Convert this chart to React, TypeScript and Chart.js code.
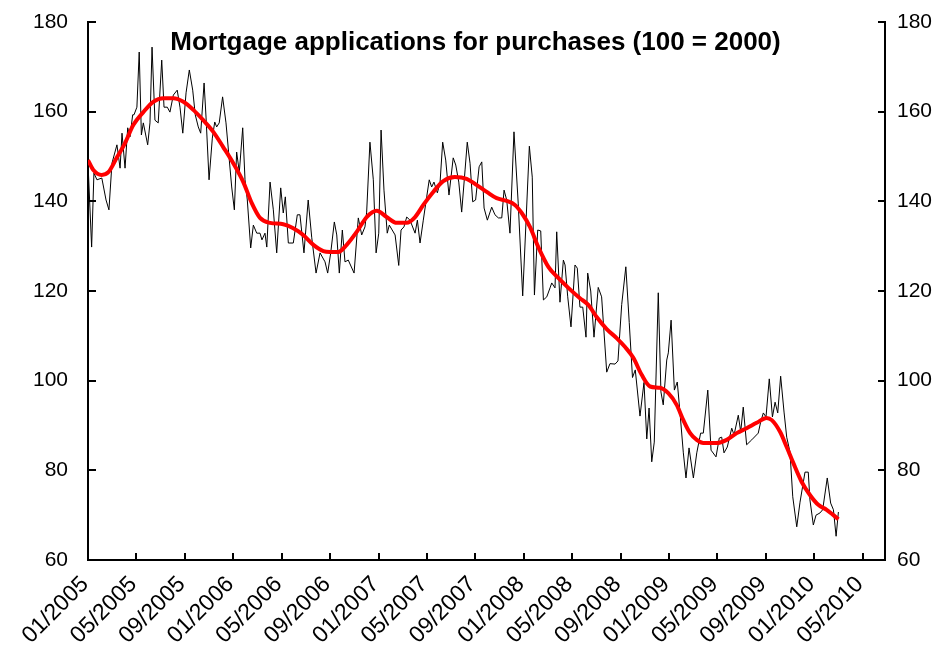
import React, { useEffect, useRef } from 'react';
import { Chart, registerables } from 'chart.js';

Chart.register(...registerables);

const titleText = 'Mortgage applications for purchases (100 = 2000)';

const xTickLabels = [
  '01/2005', '05/2005', '09/2005', '01/2006', '05/2006', '09/2006', '01/2007', '05/2007',
  '09/2007', '01/2008', '05/2008', '09/2008', '01/2009', '05/2009', '09/2009', '01/2010', '05/2010',
];
// months since January 2005
const xTickMonths = [0, 4, 8, 12, 16, 20, 24, 28, 32, 36, 40, 44, 48, 52, 56, 60, 64];
const xAxisEndMonth = 65.84;
const yTickValues = [60, 80, 100, 120, 140, 160, 180];

// weekly index observations (months since Jan 2005, index value)
const weeklyMonths = [
  0, 0.30, 0.49, 0.74, 1.14, 1.49, 1.73, 1.98, 2.39, 2.65,
  2.81, 3.06, 3.28, 3.47, 3.69, 3.80, 4.04, 4.23, 4.41, 4.57,
  4.93, 5.12, 5.29, 5.53, 5.80, 6.09, 6.28, 6.55, 6.77, 7.05,
  7.37, 7.60, 7.83, 8.10, 8.37, 8.65, 8.86, 9.11, 9.31, 9.59,
  9.75, 10.00, 10.27, 10.47, 10.63, 10.84, 11.12, 11.40, 11.65, 11.87,
  12.09, 12.28, 12.50, 12.78, 12.97, 13.16, 13.44, 13.66, 13.94, 14.21,
  14.37, 14.62, 14.77, 15.04, 15.31, 15.59, 15.92, 16.13, 16.30, 16.55,
  16.96, 17.29, 17.51, 17.84, 18.19, 18.48, 18.84, 19.17, 19.58, 19.80,
  20.05, 20.35, 20.55, 20.76, 21.01, 21.23, 21.50, 21.98, 22.33, 22.61,
  22.88, 23.02, 23.29, 23.57, 23.80, 24.02, 24.21, 24.45, 24.72, 24.89,
  25.37, 25.67, 25.86, 26.10, 26.33, 26.60, 27.02, 27.21, 27.43, 27.70,
  27.98, 28.19, 28.39, 28.58, 28.86, 29.08, 29.30, 29.55, 29.82, 30.17,
  30.38, 30.63, 30.87, 31.15, 31.33, 31.56, 31.78, 32.02, 32.31, 32.53,
  32.72, 32.99, 33.35, 33.62, 33.90, 34.18, 34.37, 34.59, 34.86, 35.19,
  35.54, 35.91, 36.19, 36.46, 36.70, 36.88, 37.15, 37.40, 37.62, 37.90,
  38.17, 38.31, 38.58, 38.72, 38.99, 39.27, 39.41, 39.63, 39.90, 40.23,
  40.42, 40.64, 40.87, 41.14, 41.28, 41.53, 41.80, 42.15, 42.43, 42.85,
  43.12, 43.54, 43.78, 44.09, 44.43, 44.71, 44.98, 45.21, 45.60, 45.93,
  46.16, 46.35, 46.57, 46.78, 47.11, 47.33, 47.52, 47.81, 47.94, 48.17,
  48.44, 48.68, 48.90, 49.18, 49.40, 49.65, 50.01, 50.29, 50.61, 50.83,
  51.20, 51.47, 51.88, 52.15, 52.35, 52.54, 52.81, 53.18, 53.37, 53.72,
  53.92, 54.13, 54.41, 54.83, 55.37, 55.57, 55.79, 56.01, 56.28, 56.54,
  56.76, 56.98, 57.22, 57.50, 57.72, 57.99, 58.22, 58.55, 58.82, 59.23,
  59.50, 59.64, 59.92, 60.14, 60.47, 60.69, 61.07, 61.35, 61.58, 61.80, 61.99,
];
const weeklyIndex = [
  148.5, 129.8, 146.3, 144.8, 145.2, 140.3, 138.1, 148.5, 152.6, 147.4,
  155.2, 147.4, 156.4, 154.4, 159.3, 159.3, 161, 173.3, 154.8, 157.5,
  152.6, 157.5, 174.4, 158.1, 157.5, 171.5, 161, 161, 159.9, 163.7,
  164.8, 161, 155.2, 164.2, 169.3, 164.8, 159.3, 156.6, 155.2, 166.4,
  158.8, 144.8, 154.1, 157.7, 156.6, 157.5, 163.3, 157.5, 149.9, 143.2,
  138.1, 151, 146.5, 156.4, 144.8, 140.3, 129.6, 134.7, 132.9, 132.9,
  131.4, 132.9, 129.8, 144.3, 138.1, 128.5, 143, 137.4, 141, 130.7,
  130.7, 137, 137, 128.5, 140.3, 132, 124, 128.5, 126.5, 124,
  128.5, 135.4, 132.5, 124, 133.6, 126.5, 126.9, 124, 136.3, 132.5,
  134.3, 137.6, 153.2, 144.8, 128.5, 132.9, 155.9, 142.5, 132.9, 134.7,
  132.5, 125.7, 133.6, 134.3, 136.5, 135.8, 132.9, 135.8, 130.7, 135.8,
  141, 144.8, 143.2, 144.3, 141.9, 144.1, 153.2, 149.2, 141.4, 149.7,
  148.1, 144.3, 137.6, 147, 153.2, 148.5, 139.9, 140.3, 147.7, 148.8,
  138.5, 135.8, 138.7, 137, 136.3, 136.3, 142.5, 140.3, 132.9, 155.5,
  139.6, 118.9, 135.8, 152.3, 145.4, 119.1, 133.6, 133.4, 118, 118.7,
  120.7, 121.8, 120.7, 133.2, 117.5, 126.9, 125.8, 118.7, 112, 125.8,
  125.1, 116.4, 116.4, 109.7, 124, 120, 109.7, 120.8, 118.7, 101.9,
  103.8, 103.7, 104.4, 117, 125.4, 113, 100.7, 102.4, 92.1, 99.6,
  87, 93.9, 81.9, 86.3, 119.6, 97.5, 94.6, 104.6, 106.2, 113.5,
  97.9, 99.7, 93, 83.9, 78.3, 85, 78.3, 83.9, 88.3, 88.3,
  97.9, 84.5, 83, 87.2, 87.4, 83.9, 85.2, 89.4, 87.9, 92.3,
  88.6, 94.1, 85.7, 86.8, 88.3, 90.8, 92.8, 91.9, 100.4, 91.9,
  95.2, 92.8, 101, 93, 87.4, 84.1, 74.1, 67.4, 72.9, 79.6,
  79.6, 73.4, 67.8, 70, 70.5, 71.2, 78.3, 72.7, 71.2, 65.3, 70.7,
];

// smoothed trend (months since Jan 2005, index value)
const trendMonths = [
  0, 0.44, 1.14, 1.68, 2.37, 3.06, 3.74, 4.57, 5.39, 6.22,
  7.05, 7.88, 8.70, 9.52, 10.35, 11.17, 12.00, 12.83, 13.53, 14.21,
  15.04, 16.13, 16.96, 17.78, 18.62, 19.44, 20.00, 20.68, 21.37, 22.20,
  23.02, 23.85, 24.67, 25.51, 26.33, 27.02, 27.70, 28.52, 29.35, 30.31,
  31.28, 32.12, 32.94, 33.76, 34.59, 35.27, 35.83, 36.51, 37.20, 38.03,
  38.85, 39.68, 40.64, 41.33, 42.02, 42.85, 43.67, 44.37, 45.05, 45.74,
  46.43, 47.25, 47.94, 48.63, 49.18, 49.74, 50.29, 50.83, 51.94, 52.76,
  53.59, 54.41, 55.24, 56.06, 56.49, 57.17, 57.72, 58.27, 58.96, 59.64,
  60.33, 61.02, 61.58, 61.99,
];
const trendIndex = [
  149.2, 147, 145.9, 146.5, 149.7, 153, 157, 159.9, 162.2, 163,
  163, 162.2, 160.4, 158.1, 155.5, 152.1, 148.5, 144.3, 139.6, 136.3,
  135.2, 134.9, 134, 132.5, 130.3, 128.9, 128.7, 128.7, 130.3, 133.2,
  136.5, 137.9, 136.5, 135.2, 135.2, 136.5, 139.2, 142.1, 144.5, 145.4,
  145, 143.6, 142.1, 140.7, 140.1, 139.2, 137.4, 134.3, 129.8, 125.4,
  122.9, 120.7, 118.4, 116.9, 114.2, 111.5, 109.5, 107.5, 105.1, 101.3,
  98.7, 98.4, 97.2, 94.6, 91.2, 88.3, 86.8, 86.1, 86.1, 86.8,
  88.3, 89.4, 90.6, 91.7, 91.2, 88.6, 85.2, 81.6, 77.4, 74.5,
  72.3, 71.2, 70, 69.1,
];

const FONT = '"Liberation Sans", Arial, Helvetica, sans-serif';

const innerTicksAndTitle = {
  id: 'innerTicksAndTitle',
  afterDraw(chart: any) {
    const ctx = chart.ctx;
    const xs = chart.scales.x;
    const yl = chart.scales.y;
    const yr = chart.scales.y2;
    const area = chart.chartArea;
    ctx.save();
    ctx.strokeStyle = '#000';
    ctx.lineWidth = 2;
    ctx.beginPath();
    xs.ticks.forEach((t: any) => {
      const px = Math.round(xs.getPixelForValue(t.value));
      ctx.moveTo(px, area.bottom);
      ctx.lineTo(px, area.bottom - 7);
    });
    yl.ticks.forEach((t: any) => {
      const py = Math.round(yl.getPixelForValue(t.value));
      ctx.moveTo(area.left, py);
      ctx.lineTo(area.left + 8, py);
    });
    yr.ticks.forEach((t: any) => {
      const py = Math.round(yr.getPixelForValue(t.value));
      ctx.moveTo(area.right, py);
      ctx.lineTo(area.right - 7, py);
    });
    ctx.stroke();
    ctx.fillStyle = '#000';
    ctx.font = 'bold 26px ' + FONT;
    ctx.textAlign = 'center';
    ctx.textBaseline = 'alphabetic';
    ctx.fillText(titleText, (area.left + area.right) / 2 - 11, area.top + 28);
    ctx.restore();
  },
};

const zeroPad = (s: any) => {
  s.paddingTop = 0;
  s.paddingBottom = 0;
};

export default function App() {
  const canvasRef = useRef<HTMLCanvasElement | null>(null);

  useEffect(() => {
    document.body.style.margin = '0';
    const canvas = canvasRef.current;
    if (!canvas) return;
    const yFont = { family: FONT, size: 21 };
    const xFont = { family: FONT, size: 23 };
    const chart = new Chart(canvas, {
      type: 'line',
      data: {
        datasets: [
          {
            label: 'Trend',
            data: trendMonths.map((m, i) => ({ x: m, y: trendIndex[i] })),
            borderColor: '#ff0000',
            borderWidth: 4,
            pointRadius: 0,
            cubicInterpolationMode: 'monotone',
            fill: false,
            order: 0,
            yAxisID: 'y',
          },
          {
            label: 'Weekly',
            data: weeklyMonths.map((m, i) => ({ x: m, y: weeklyIndex[i] })),
            borderColor: '#000000',
            borderWidth: 1,
            pointRadius: 0,
            tension: 0,
            fill: false,
            order: 1,
            yAxisID: 'y',
          },
        ],
      },
      options: {
        responsive: false,
        devicePixelRatio: 1,
        animation: false,
        layout: { padding: { top: 22, left: 0, right: 0, bottom: 0 } },
        plugins: {
          legend: { display: false },
          tooltip: { enabled: false },
          title: { display: false },
        },
        scales: {
          x: {
            type: 'linear',
            min: 0,
            max: xAxisEndMonth,
            grid: { display: false, drawTicks: false },
            border: { display: true, color: '#000', width: 2 },
            afterBuildTicks: (s: any) => {
              s.ticks = xTickMonths.map((v) => ({ value: v }));
            },
            afterFit: (s: any) => {
              s.height = 98;
              s.paddingLeft = 0;
              s.paddingRight = 0;
            },
            ticks: {
              autoSkip: false,
              maxRotation: 45,
              minRotation: 45,
              padding: 11,
              labelOffset: -3,
              color: '#000',
              font: xFont,
              callback: (_v: any, i: number) => xTickLabels[i],
            },
          },
          y: {
            position: 'left',
            min: 60,
            max: 180,
            grid: { display: false, drawTicks: false },
            border: { display: true, color: '#000', width: 2 },
            afterBuildTicks: (s: any) => {
              s.ticks = yTickValues.map((v) => ({ value: v }));
            },
            afterFit: (s: any) => {
              s.width = 88;
              zeroPad(s);
            },
            ticks: { padding: 20, color: '#000', font: yFont },
          },
          y2: {
            position: 'right',
            min: 60,
            max: 180,
            grid: { display: false, drawTicks: false },
            border: { display: true, color: '#000', width: 2 },
            afterBuildTicks: (s: any) => {
              s.ticks = yTickValues.map((v) => ({ value: v }));
            },
            afterFit: (s: any) => {
              s.width = 58;
              zeroPad(s);
            },
            ticks: { padding: 12, color: '#000', font: yFont },
          },
        },
      },
      plugins: [innerTicksAndTitle],
    } as any);
    return () => chart.destroy();
  }, []);

  return (
    <div style={{ width: 943, height: 658, position: 'relative' }}>
      <canvas ref={canvasRef} width={943} height={658} style={{ display: 'block', width: 943, height: 658 }} />
    </div>
  );
}
